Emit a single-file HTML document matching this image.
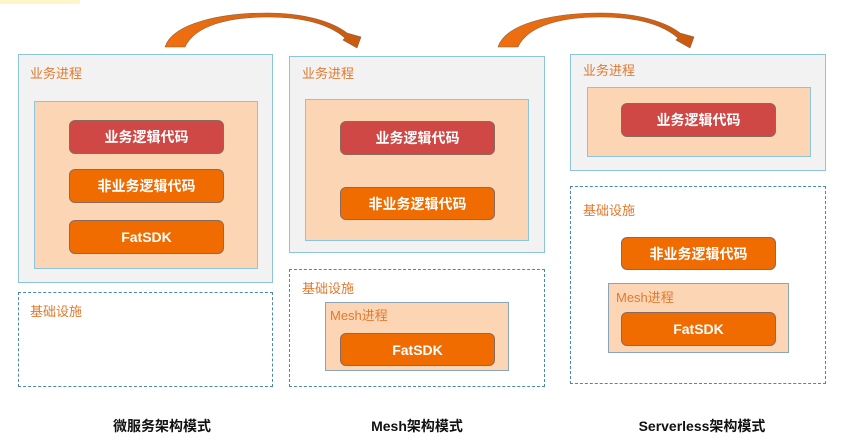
<!DOCTYPE html>
<html><head><meta charset="utf-8"><style>
body{margin:0;width:848px;height:445px;background:#fff;position:relative;overflow:hidden;font-family:"Liberation Sans","Noto Sans CJK SC",sans-serif}
.a{position:absolute;box-sizing:border-box}
.g{background:#f2f2f2;border:1.5px solid #8cc4dc}
.p{background:#fcd5b5;border:1.5px solid #8cc4dc}
.m{background:#fcd5b5;border:1.5px solid #8aa4b8}
.d{border:1.5px dashed #4a8aa8;background:#fff}
.lb{position:absolute;color:#e07a30;font-size:13px}
.r,.o{position:absolute;box-sizing:border-box;border-radius:6px;color:#fff;font-weight:bold;font-size:14px;display:flex;align-items:center;justify-content:center;border:1.5px solid #8a6a5a}
.r{background:#cf4845}.o{background:#f06c00}
.c{position:absolute;top:416px;font-size:14px;font-weight:bold;color:#111;width:200px;text-align:center}
</style></head><body>
<div class="a" style="left:0;top:0;width:80px;height:4px;background:#fff5c8"></div>
<svg class="a" style="left:0;top:0" width="848" height="60">
<defs><linearGradient id="gr" x1="0" x2="1"><stop offset="0" stop-color="#f07010"/><stop offset="1" stop-color="#c85a10"/></linearGradient></defs>
<g transform="translate(165,0)"><path d="M0,47 C8,22 60,13 102,13 C140,13 168,22 182,33 L196,37 L192,48 L178,40 L180,38 C165,25 140,17 102,17 C65,17 30,25 20,47 Z" fill="url(#gr)" stroke="#8a6040" stroke-width="0.6"/></g>
<g transform="translate(498,0)"><path d="M0,47 C8,22 60,13 102,13 C140,13 168,22 182,33 L196,37 L192,48 L178,40 L180,38 C165,25 140,17 102,17 C65,17 30,25 20,47 Z" fill="url(#gr)" stroke="#8a6040" stroke-width="0.6"/></g>
</svg>

<div class="a g" style="left:18px;top:54px;width:255px;height:229px"></div>
<div class="lb" style="left:30px;top:63px">业务进程</div>
<div class="a p" style="left:34px;top:101px;width:224px;height:168px"></div>
<div class="r" style="left:69px;top:120px;width:155px;height:34px">业务逻辑代码</div>
<div class="o" style="left:69px;top:169px;width:155px;height:34px">非业务逻辑代码</div>
<div class="o" style="left:69px;top:220px;width:155px;height:34px">FatSDK</div>
<div class="a d" style="left:18px;top:292px;width:255px;height:95px"></div>
<div class="lb" style="left:30px;top:301px">基础设施</div>

<div class="a g" style="left:289px;top:56px;width:256px;height:197px"></div>
<div class="lb" style="left:302px;top:63px">业务进程</div>
<div class="a p" style="left:305px;top:99px;width:224px;height:142px"></div>
<div class="r" style="left:340px;top:121px;width:155px;height:34px">业务逻辑代码</div>
<div class="o" style="left:340px;top:187px;width:155px;height:33px">非业务逻辑代码</div>
<div class="a d" style="left:289px;top:269px;width:256px;height:118px"></div>
<div class="lb" style="left:302px;top:278px">基础设施</div>
<div class="a m" style="left:325px;top:302px;width:184px;height:69px"></div>
<div class="lb" style="left:330px;top:305px">Mesh进程</div>
<div class="o" style="left:340px;top:333px;width:155px;height:33px">FatSDK</div>

<div class="a g" style="left:570px;top:54px;width:256px;height:117px"></div>
<div class="lb" style="left:583px;top:60px">业务进程</div>
<div class="a p" style="left:587px;top:87px;width:224px;height:70px"></div>
<div class="r" style="left:621px;top:103px;width:155px;height:34px">业务逻辑代码</div>
<div class="a d" style="left:570px;top:186px;width:256px;height:198px"></div>
<div class="lb" style="left:583px;top:200px">基础设施</div>
<div class="o" style="left:621px;top:237px;width:155px;height:33px">非业务逻辑代码</div>
<div class="a m" style="left:608px;top:283px;width:181px;height:70px"></div>
<div class="lb" style="left:616px;top:287px">Mesh进程</div>
<div class="o" style="left:621px;top:312px;width:155px;height:34px">FatSDK</div>

<div class="c" style="left:62px">微服务架构模式</div>
<div class="c" style="left:317px">Mesh架构模式</div>
<div class="c" style="left:602px">Serverless架构模式</div>
</body></html>
